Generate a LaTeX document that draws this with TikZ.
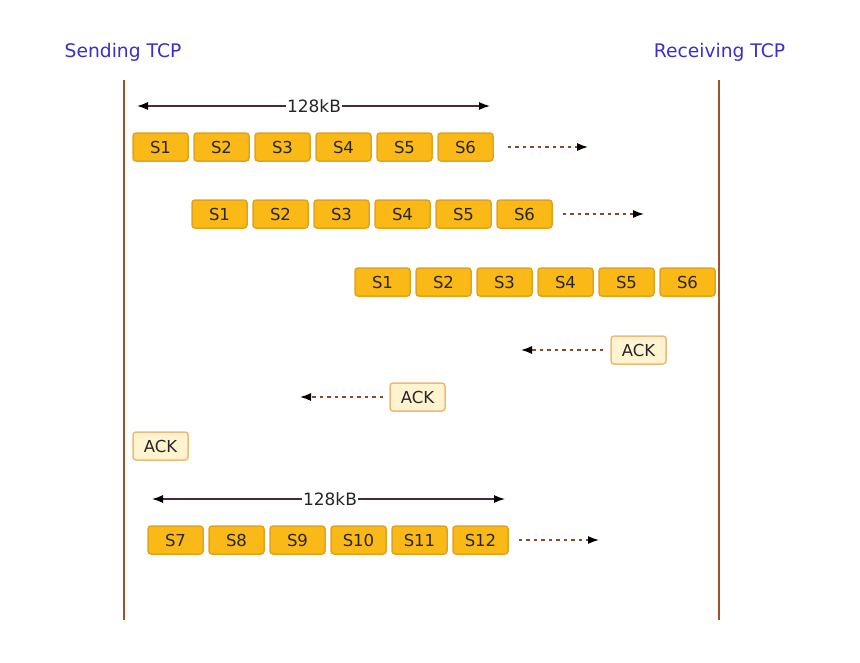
\documentclass[tikz,border=0pt]{standalone}
\usepackage{fontspec}
\setmainfont{DejaVu Sans}
\usetikzlibrary{arrows.meta}

\definecolor{segfill}{HTML}{FBB918}
\definecolor{segline}{HTML}{E2A31C}
\definecolor{ackfill}{HTML}{FFF4CF}
\definecolor{ackline}{HTML}{EBBA78}
\definecolor{wirecol}{HTML}{A0522D}
\definecolor{dashcol}{HTML}{8B4A26}
\definecolor{sizecol}{HTML}{4A2A33}
\definecolor{titlecol}{HTML}{3A2FCC}

\tikzset{
  seg/.style={draw=segline, fill=segfill, line width=1.5pt, rounded corners=3pt,
    minimum width=55pt, minimum height=28pt, inner sep=0pt,
    font=\fontsize{16.5}{18}\selectfont, text=black!85},
  ackbox/.style={seg, draw=ackline, fill=ackfill},
  title/.style={font=\fontsize{18.7}{21}\selectfont, text=titlecol},
  wire/.style={draw=wirecol, line width=2.5pt},
  dasharrow/.style={draw=dashcol, line width=1.4pt, dash pattern=on 3.5pt off 4pt,
    -{Latex[length=11pt,width=8pt,color=black]}},
  sizearrow/.style={draw=sizecol, line width=1.3pt,
    -{Latex[length=11pt,width=8pt,color=black]}},
  size/.style={font=\fontsize{17}{19}\selectfont, text=black!85, inner sep=0.5pt, fill=white}
}

\begin{document}
\begin{tikzpicture}[x=1pt,y=-1pt]
  \useasboundingbox (0,0) rectangle (860,662);

  \node[title] (send) at (123,52) {Sending TCP};
  \node[title] (recv) at (719.5,52) {Receiving TCP};
  \coordinate (sendtop) at (124,80);
  \coordinate (sendbot) at (124,620);
  \coordinate (recvtop) at (719,80);
  \coordinate (recvbot) at (719,620);
  \draw[wire] (sendtop) -- (sendbot);
  \draw[wire] (recvtop) -- (recvbot);

  % first window
  \node[size] (win1) at (314,106) {128kB};
  \coordinate (win1l) at (137,106);
  \coordinate (win1r) at (490,106);
  \draw[sizearrow] (win1) -- (win1l);
  \draw[sizearrow] (win1) -- (win1r);

  \foreach \i in {1,...,6} {
    \node[seg] (a\i) at ({160.5+61*(\i-1)},147) {S\i};
    \node[seg] (b\i) at ({219.5+61*(\i-1)},214) {S\i};
    \node[seg] (c\i) at ({382.5+61*(\i-1)},282) {S\i};
  }
  \coordinate (aend) at (588,147);
  \coordinate (bend) at (644,214);
  \draw[dasharrow, shorten <=14pt] (a6) -- (aend);
  \draw[dasharrow, shorten <=10pt] (b6) -- (bend);

  % acknowledgements
  \node[ackbox] (ack1) at (638.5,350) {ACK};
  \node[ackbox] (ack2) at (417.5,397) {ACK};
  \node[ackbox] (ack3) at (160.5,446) {ACK};
  \coordinate (ack1end) at (521,350);
  \coordinate (ack2end) at (300,397);
  \draw[dasharrow, shorten <=7pt] (ack1) -- (ack1end);
  \draw[dasharrow, shorten <=6pt] (ack2) -- (ack2end);

  % second window
  \node[size] (win2) at (330,499) {128kB};
  \coordinate (win2l) at (152,499);
  \coordinate (win2r) at (505,499);
  \draw[sizearrow] (win2) -- (win2l);
  \draw[sizearrow] (win2) -- (win2r);

  \foreach \i in {1,...,6} {
    \pgfmathtruncatemacro\num{\i+6}
    \node[seg] (d\i) at ({175.5+61*(\i-1)},540) {S\num};
  }
  \coordinate (dend) at (599,540);
  \draw[dasharrow, shorten <=10pt] (d6) -- (dend);
\end{tikzpicture}
\end{document}
